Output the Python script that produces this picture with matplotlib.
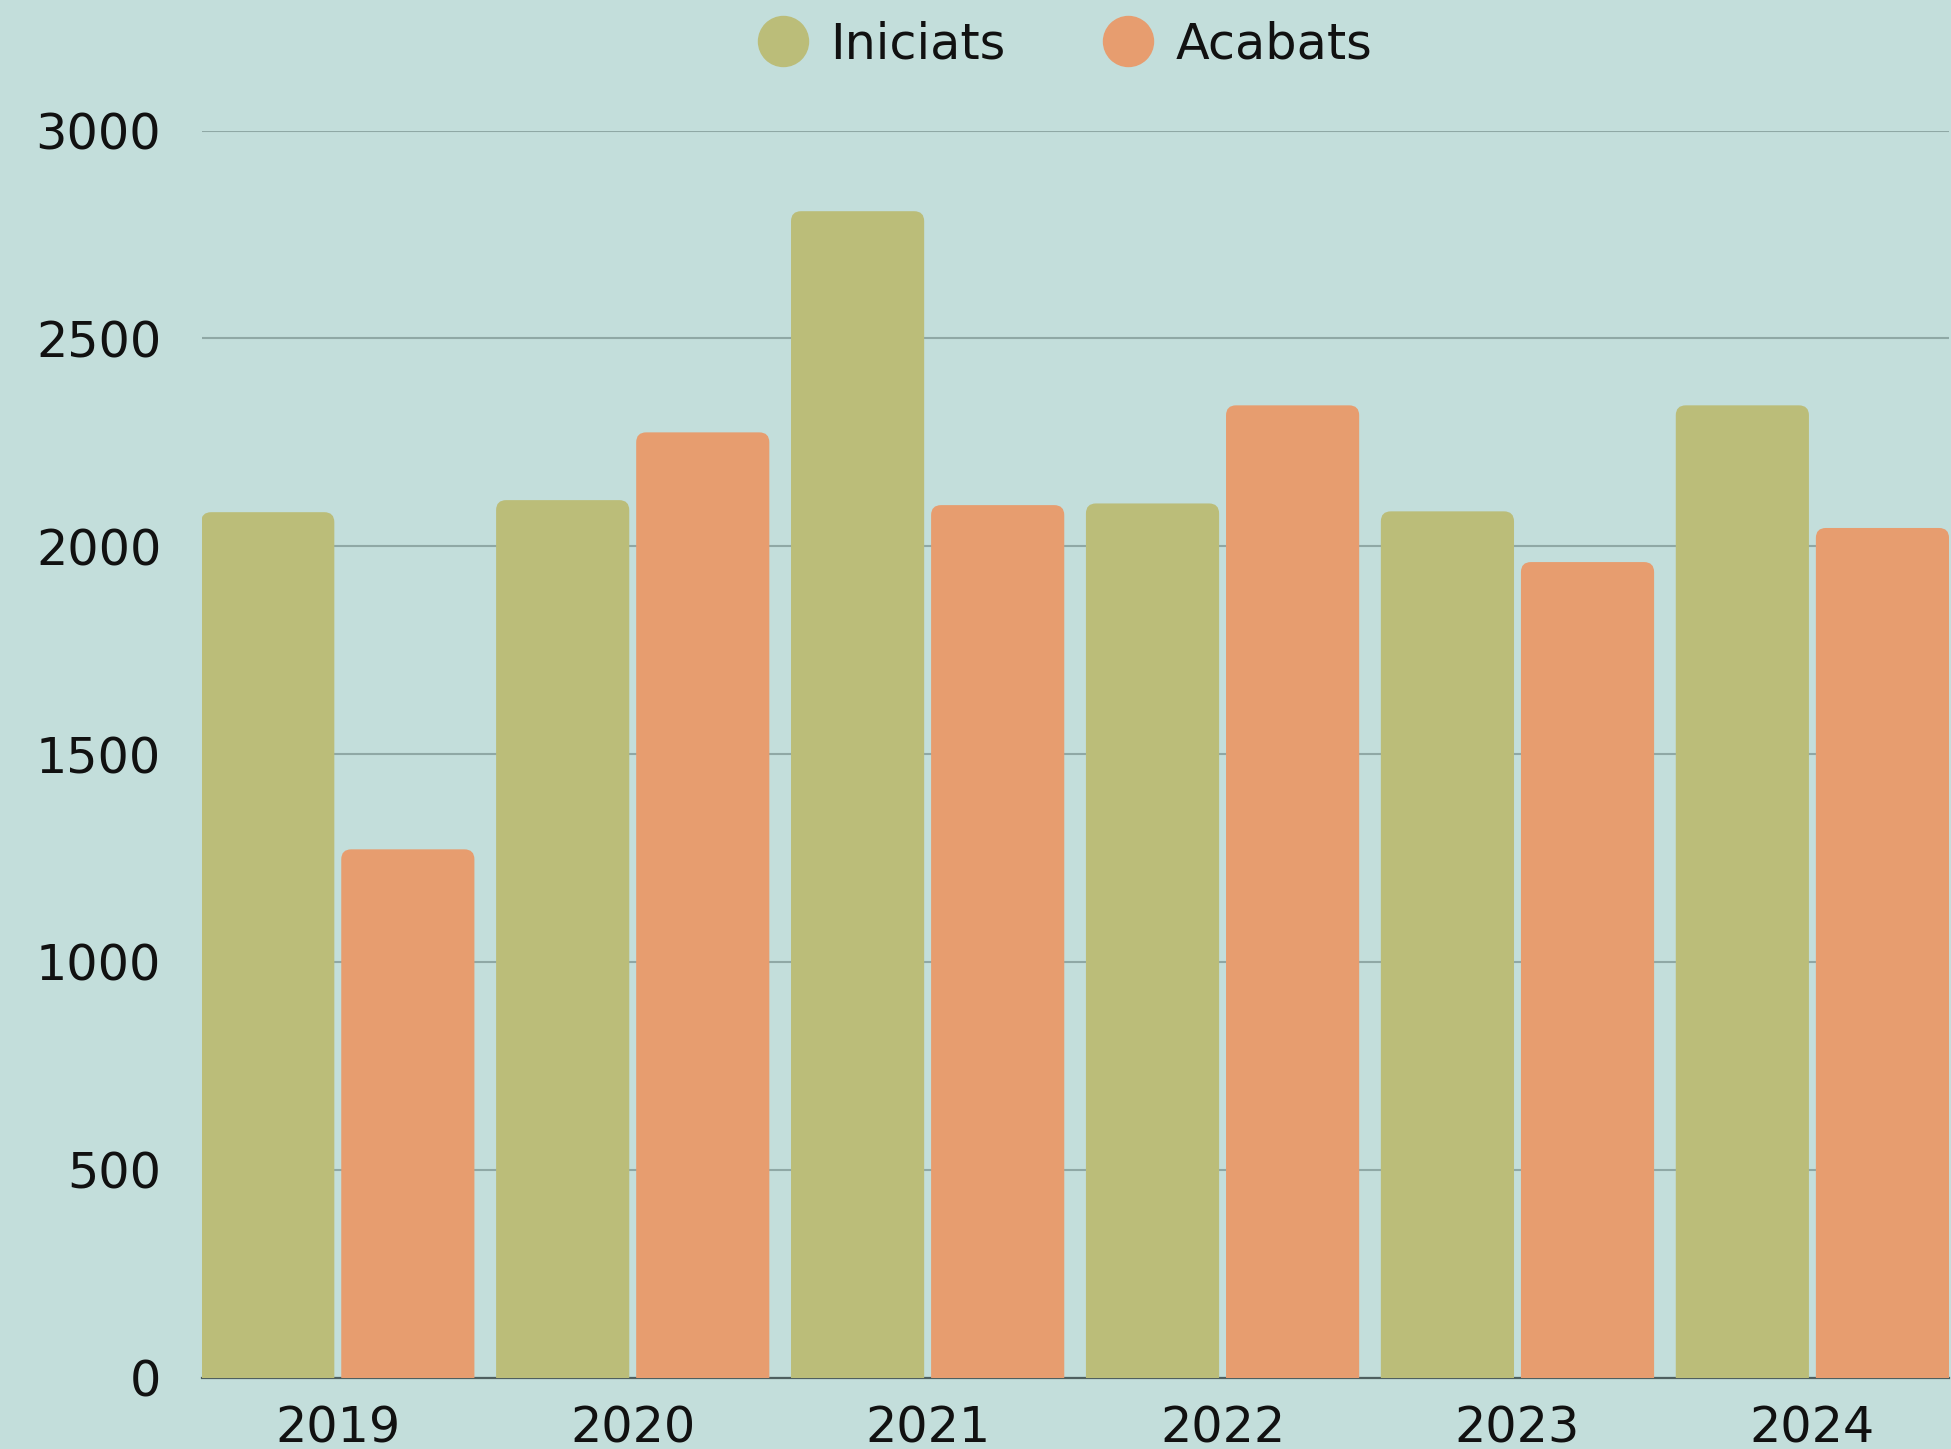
import matplotlib
matplotlib.use("Agg")
import matplotlib.pyplot as plt
import matplotlib.patches as patches
from matplotlib.lines import Line2D
import numpy as np

years = ["2019", "2020", "2021", "2022", "2023", "2024"]
iniciats = [2082, 2111, 2806, 2103, 2084, 2339]
acabats = [1271, 2274, 2099, 2339, 1962, 2044]
yticks = [0, 500, 1000, 1500, 2000, 2500, 3000]

BG = "#c3dedb"
GREEN = "#bbbd79"
ORANGE = "#e79d6f"
GRID = "#8fa8a5"
FS = 35.5

plt.rcParams["font.family"] = ["DejaVu Sans"]

fig = plt.figure(figsize=(19.51, 14.49), dpi=100, facecolor=BG)
ax = fig.add_axes([0.1033, 0.0492, 0.8955, 0.8607])
ax.set_facecolor(BG)

x = np.arange(len(years))
width = 0.4515
offset = 0.2375
pad = 0.038

bars_a = ax.bar(x - offset, iniciats, width, color=GREEN, zorder=3)
bars_b = ax.bar(x + offset, acabats, width, color=ORANGE, zorder=3)

ax.set_xlim(-0.5 + pad, len(years) - 0.5 - pad)
ax.set_ylim(0, 3000)

# swap plain rectangles for ones with rounded tops
fig.canvas.draw()
px_x = ax.transData.transform((1, 0))[0] - ax.transData.transform((0, 0))[0]
px_y = ax.transData.transform((0, 1))[1] - ax.transData.transform((0, 0))[1]
aspect = px_x / px_y
r = 10 / px_x
for bar in list(bars_a) + list(bars_b):
    bx, bw, bh = bar.get_x(), bar.get_width(), bar.get_height()
    fc = bar.get_facecolor()
    bar.set_visible(False)
    ax.add_patch(patches.FancyBboxPatch(
        (bx, -r * aspect * 2), bw, bh + r * aspect * 2,
        boxstyle=f"round,pad=0,rounding_size={r}",
        mutation_aspect=aspect, facecolor=fc, edgecolor="none", zorder=3))

ax.set_yticks(yticks)
ax.set_xticks(x)
ax.set_xticklabels(years)
ax.tick_params(axis="both", length=0, labelsize=FS, colors="#111111")
ax.tick_params(axis="y", pad=29)
ax.tick_params(axis="x", pad=19)
ax.grid(axis="y", color=GRID, linewidth=1.5, zorder=0)
ax.axhline(0, color="#4f5f5f", linewidth=1.6, zorder=2, clip_on=False)
for s in ax.spines.values():
    s.set_visible(False)

handles = [
    Line2D([], [], marker="o", linestyle="none", markersize=36, color=GREEN),
    Line2D([], [], marker="o", linestyle="none", markersize=36, color=ORANGE),
]
fig.legend(handles, ["Iniciats", "Acabats"], loc="center", ncol=2,
           bbox_to_anchor=(0.546, 0.9695), frameon=False, fontsize=FS,
           handlelength=1.0, handletextpad=0.45, columnspacing=2.0,
           borderpad=0, labelcolor="#111111")

fig.savefig("out.png", dpi=100, facecolor=BG)
